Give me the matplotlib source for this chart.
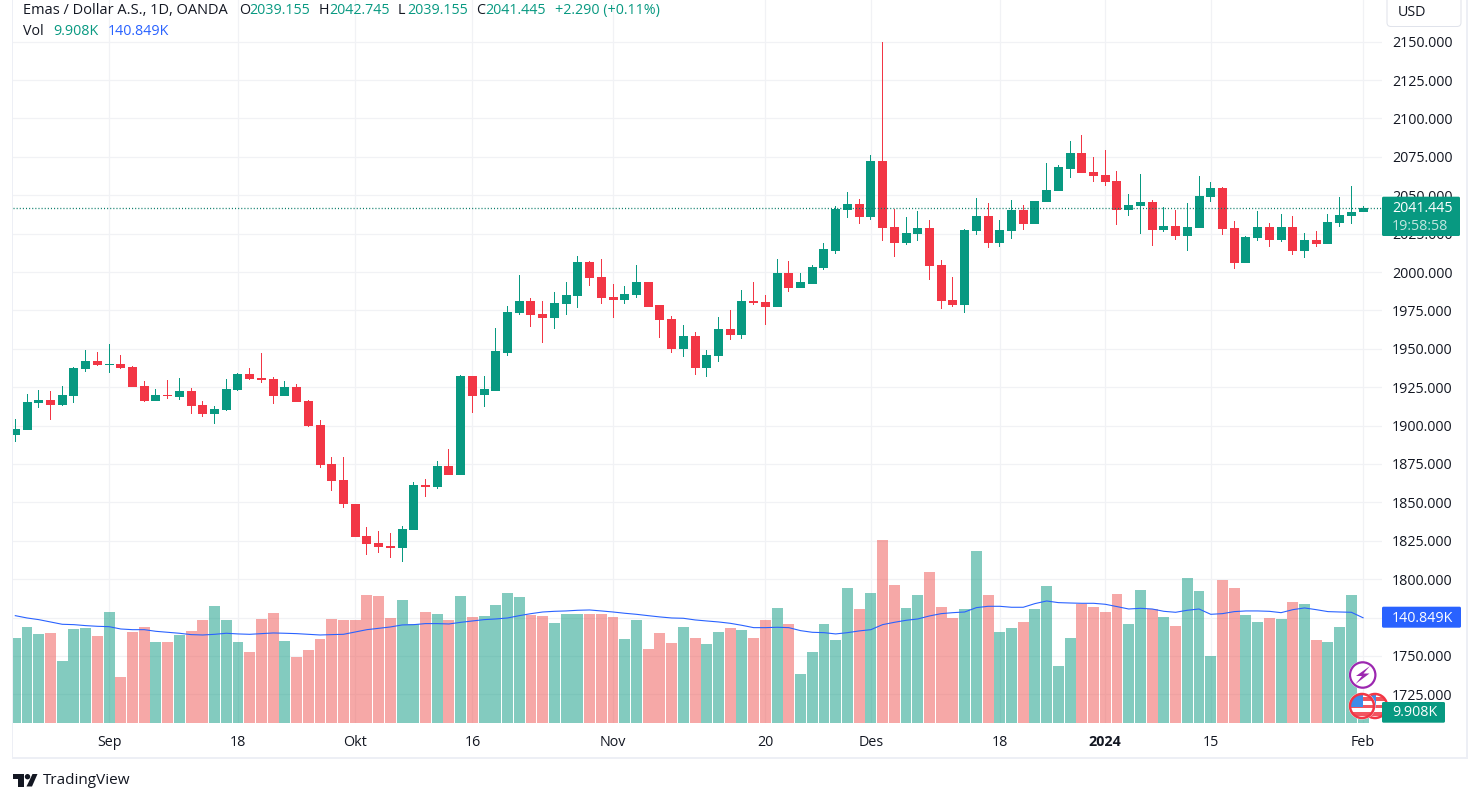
# TradingView style gold chart, daily candles with volume overlay
import matplotlib
matplotlib.use('Agg')
import matplotlib.pyplot as plt
from matplotlib.patches import Circle, Polygon, Rectangle, FancyBboxPatch

plt.rcParams['font.family'] = ['Open Sans', 'DejaVu Sans']

opens = [1894.1,1897.3,1914.8,1916.8,1913.5,1919.4,1936.9,1942.1,1939.5,1940.2,
         1938.2,1925.9,1916.1,1920.0,1918.7,1922.6,1913.5,1907.7,1910.3,1923.3,
         1933.7,1931.1,1930.4,1919.4,1925.2,1916.1,1900.5,1875.2,1864.8,1849.2,
         1827.8,1823.3,1821.3,1820.1,1831.7,1861.6,1860.3,1873.9,1868.0,1932.4,
         1919.6,1922.8,1947.4,1973.6,1981.4,1972.9,1970.3,1979.5,1984.7,2006.3,
         1996.5,1984.0,1982.1,1985.3,1993.2,1978.2,1969.7,1950.0,1958.5,1937.6,
         1945.5,1963.1,1959.2,1981.4,1980.8,1977.5,1999.1,1989.3,1992.5,2002.3,
         2013.8,2040.6,2044.5,2036.0,2072.0,2029.5,2019.0,2024.9,2028.8,2004.6,
         1981.8,1978.5,2026.9,2036.7,2019.0,2026.9,2040.6,2031.5,2045.8,2053.0,
         2067.4,2077.2,2065.4,2063.5,2059.6,2040.7,2043.3,2045.9,2027.6,2030.2,
         2023.7,2028.9,2049.1,2055.0,2028.9,2006.1,2022.4,2029.6,2021.1,2029.6,
         2013.9,2021.1,2018.5,2032.2,2036.7,2039.155]
highs = [1904.4,1920.7,1923.3,1922.6,1925.9,1938.2,1949.2,1947.9,1953.1,1946.0,
         1938.9,1929.1,1923.9,1929.8,1931.1,1924.6,1916.1,1912.9,1930.4,1934.3,
         1937.6,1947.3,1931.7,1929.1,1927.2,1916.8,1903.8,1879.8,1879.8,1849.2,
         1833.7,1831.1,1829.8,1834.9,1863.5,1865.5,1877.2,1885.0,1933.0,1932.4,
         1932.0,1963.3,1978.1,1997.8,1983.4,1981.4,1987.3,1993.8,2010.2,2006.9,
         2008.2,1992.5,1991.2,2004.3,1993.2,1978.8,1971.6,1965.7,1961.2,1949.4,
         1971.0,1975.5,1988.6,1993.8,1985.3,2008.2,2006.9,1999.1,2004.3,2018.7,
         2043.2,2052.4,2047.8,2075.9,2149.8,2041.3,2036.0,2039.9,2034.1,2007.9,
         1996.8,2028.2,2048.4,2045.2,2034.1,2047.1,2043.9,2046.5,2071.3,2069.4,
         2085.1,2089.0,2075.2,2079.2,2066.1,2051.1,2064.1,2047.2,2042.6,2040.6,
         2045.2,2062.8,2058.9,2055.6,2033.5,2023.7,2040.0,2032.2,2038.0,2036.7,
         2025.6,2026.9,2038.0,2049.1,2056.3,2042.745]
lows = [1889.5,1897.3,1911.6,1903.8,1912.9,1914.8,1935.0,1938.9,1934.3,1936.9,
        1925.2,1915.5,1916.1,1917.4,1916.8,1907.7,1905.7,1901.2,1909.6,1922.6,
        1929.8,1927.8,1914.2,1919.4,1915.5,1899.2,1872.6,1857.7,1846.6,1827.2,
        1815.5,1816.8,1813.5,1810.9,1831.7,1853.2,1859.0,1868.0,1868.0,1908.3,
        1912.4,1922.8,1945.5,1972.3,1964.4,1954.0,1963.1,1972.3,1976.8,1991.2,
        1979.5,1970.3,1979.5,1983.4,1977.5,1957.2,1947.4,1944.8,1933.1,1931.7,
        1941.6,1955.9,1956.6,1978.8,1965.7,1977.5,1987.3,1989.3,1991.9,2001.0,
        2011.8,2035.4,2031.4,2034.1,2020.3,2009.9,2017.7,2020.3,1994.8,1975.9,
        1977.2,1973.3,2024.3,2015.7,2016.4,2021.6,2027.5,2031.5,2045.8,2053.0,
        2061.5,2064.8,2058.9,2056.3,2030.8,2036.7,2025.0,2017.2,2026.3,2021.1,
        2013.9,2028.9,2045.9,2024.3,2002.2,2006.1,2020.4,2016.5,2019.8,2011.3,
        2009.3,2016.5,2018.5,2029.6,2031.5,2039.155]
closes = [1897.9,1915.5,1916.8,1913.5,1920.0,1937.6,1942.1,1939.5,1940.2,1937.6,
          1925.2,1916.1,1920.0,1919.4,1922.6,1912.9,1907.7,1910.9,1923.9,1933.7,
          1930.4,1929.8,1919.4,1925.2,1915.5,1899.9,1874.6,1864.2,1848.6,1827.2,
          1822.6,1820.7,1820.1,1832.4,1861.6,1860.3,1873.9,1868.0,1932.4,1919.4,
          1923.5,1948.3,1974.2,1981.4,1972.3,1970.3,1980.1,1985.3,2006.3,1995.8,
          1983.4,1982.1,1986.0,1993.2,1977.5,1969.0,1950.0,1958.5,1937.6,1946.1,
          1963.1,1959.2,1981.4,1980.1,1977.5,1999.1,1989.3,1993.2,2003.0,2014.8,
          2041.3,2044.5,2036.0,2072.0,2028.8,2019.0,2025.6,2028.8,2004.0,1981.1,
          1978.5,2027.5,2036.7,2019.0,2027.5,2040.6,2031.5,2046.5,2053.7,2068.1,
          2077.2,2064.8,2062.8,2058.9,2040.6,2043.9,2045.9,2027.6,2030.2,2023.7,
          2029.6,2049.8,2055.0,2028.3,2006.1,2023.0,2029.6,2021.1,2029.6,2013.9,
          2021.1,2018.5,2032.8,2037.4,2039.3,2041.445]

# volume and its moving average, in thousands
volume = [113.5,128.2,118.8,120.2,82.8,125.5,126.8,116.1,148.2,61.4,
          121.5,128.2,108.1,108.1,117.5,122.8,137.5,156.2,137.5,108.1,
          94.8,138.8,146.9,109.5,88.1,97.5,112.1,138.8,137.5,137.5,
          170.9,169.5,140.2,164.2,132.2,148.2,145.5,137.5,169.5,141.5,
          142.8,157.5,173.6,168.2,144.2,142.8,133.5,145.5,145.5,145.5,
          145.5,141.5,112.1,137.5,98.8,120.2,106.8,128.2,113.5,105.5,
          121.5,126.8,124.2,113.5,137.5,153.5,132.2,65.4,94.8,132.2,
          110.8,180.2,152.2,173.6,244.3,184.2,153.5,170.9,201.6,154.9,
          140.2,152.2,229.6,170.9,121.5,126.8,134.8,152.2,182.9,76.1,
          113.5,158.9,154.9,148.2,172.2,132.2,177.6,152.2,141.5,129.5,
          193.6,176.2,89.4,190.9,180.2,144.2,134.8,140.2,138.8,161.5,
          158.9,110.8,108.1,128.2,170.9,9.908]
volume_ma = [143.7,140.6,138.4,135.3,132.2,131.7,130.4,129.5,129.0,125.9,
             125.0,125.0,122.8,121.5,120.2,118.4,117.9,118.8,120.2,119.3,
             118.8,119.7,120.6,120.2,119.7,118.8,117.9,118.4,118.8,121.9,
             125.0,126.8,128.6,131.3,131.7,133.1,133.1,132.6,134.8,136.6,
             138.4,139.3,140.6,143.7,146.4,148.6,149.5,150.0,150.9,151.3,
             150.0,148.6,146.9,145.5,143.7,142.0,140.6,140.2,138.0,136.6,
             135.3,133.5,130.8,127.7,127.7,128.2,127.7,123.7,121.5,121.0,
             119.3,121.0,123.3,125.0,131.7,134.8,137.5,139.3,143.3,146.4,
             147.7,148.6,154.4,156.2,156.2,154.9,154.9,159.8,163.3,161.1,
             160.6,160.2,160.2,158.9,155.8,152.6,153.5,152.6,149.5,148.2,
             150.9,152.6,145.5,146.4,149.1,150.0,150.0,149.5,147.7,151.7,
             154.0,151.7,149.1,148.6,148.2,140.849]

date_ticks = [8, 19, 29, 39, 51, 64, 73, 84, 93, 102, 115]
date_labels = ['Sep', '18', 'Okt', '16', 'Nov', '20', 'Des', '18', '2024', '15', 'Feb']
price_ticks = [1725 + 25 * k for k in range(18)]
last_price = closes[-1]

GREEN = '#089981'
RED = '#F23645'
VOL_RED = '#EF5350'
BLUE = '#2962FF'
TEXT = '#131722'
GRID = '#F1F2F5'
FRAME = '#EDEFF5'

W, H = 1480, 792
PX = 0.72  # one pixel in points at dpi 100

# pixel geometry of the pane
left, right, bottom = 13.0, 1381.7, 723.3
bar_x0, bar_dx = 15.3, 11.72
y2150, px_per_unit = 41.7, 1.5355
px_per_k = 1 / 1.335

fig = plt.figure(figsize=(W / 100, H / 100), dpi=100, facecolor='white')
ax = fig.add_axes([left / W, 1 - bottom / H, (right - left) / W, bottom / H])
ax.set_xlim((left - bar_x0) / bar_dx, (right - bar_x0) / bar_dx)
ax.set_ylim(2150 - (bottom - y2150) / px_per_unit, 2150 + y2150 / px_per_unit)
for s in ax.spines.values():
    s.set_visible(False)

idx = list(range(len(closes)))
colors = [GREEN if c >= o else RED for o, c in zip(opens, closes)]
vol_colors = [GREEN if c >= o else VOL_RED for o, c in zip(opens, closes)]

# wicks as one pixel wide bars so they stay crisp
ax.bar(idx, [h - l for h, l in zip(highs, lows)], bottom=lows,
       width=1 / bar_dx, color=colors, linewidth=0, zorder=3)
ax.bar(idx, [abs(c - o) for o, c in zip(opens, closes)],
       bottom=[min(o, c) for o, c in zip(opens, closes)],
       width=0.77, color=colors, linewidth=0, zorder=4)
ax.axhline(last_price, color='#067A67', lw=PX * 1.3, linestyle=(0, (0.8, 1.6)), zorder=5)

ax.set_axisbelow(True)
ax.grid(True, color=GRID, lw=PX * 1.2)
ax.set_xticks(date_ticks)
ax.set_xticklabels(date_labels)
ax.set_yticks(price_ticks)
ax.set_yticklabels(['%.3f' % p for p in price_ticks])
ax.tick_params(axis='both', length=0, labelsize=10.3, labelcolor=TEXT)
ax.tick_params(axis='x', pad=8.5)
ax.get_xticklabels()[8].set_fontweight('bold')

# volume pane shares the x axis
vol = ax.twinx()
vol.set_ylim(0, bottom / px_per_k)
vol.bar(idx, volume, width=0.93, color=vol_colors, alpha=0.5, linewidth=0, zorder=2)
vol.plot(idx, volume_ma, color=BLUE, lw=PX * 1.1, zorder=3)
vol.yaxis.set_visible(False)
for s in vol.spines.values():
    s.set_visible(False)

# twinx puts the price labels back on the left
ax.yaxis.tick_right()
ax.tick_params(axis='y', length=0, pad=7.3, labelsize=10.3, labelcolor=TEXT)

# overlay in pixel coordinates for the legend, price tags and icons
ov = fig.add_axes([0, 0, 1, 1], zorder=10)
ov.set_xlim(0, W)
ov.set_ylim(H, 0)
ov.axis('off')
ov.patch.set_visible(False)

ov.add_patch(Rectangle((11.5, 0), 1.8, 758.5, fc=FRAME, lw=0))
ov.add_patch(Rectangle((11.5, 756.7), 1456.5, 1.8, fc=FRAME, lw=0))
ov.add_patch(Rectangle((1466.2, 0), 1.8, 758.5, fc=FRAME, lw=0))


def tag(x0, x1, y0, y1, color):
    ov.add_patch(FancyBboxPatch((x0, y0), x1 - x0, y1 - y0, boxstyle='round,pad=0,rounding_size=1.5',
                                fc=color, ec='none', zorder=5))


tag(1382, 1460, 196.7, 236, GREEN)
ov.text(1392, 208, '2041.445', color='white', fontsize=10.3, va='center', zorder=6)
ov.text(1392, 226.5, '19:58:58', color='white', alpha=0.75, fontsize=10.3, va='center', zorder=6)
tag(1382, 1461, 606.7, 627.7, BLUE)
ov.text(1392, 618, '140.849K', color='white', fontsize=10.3, va='center', zorder=6)
tag(1382, 1445, 702, 722.7, GREEN)
ov.text(1392, 713, '9.908K', color='white', fontsize=10.3, va='center', zorder=6)

# currency button
ov.add_patch(FancyBboxPatch((1387, -10), 74, 36.5, boxstyle='round,pad=0,rounding_size=4',
                            fc='white', ec='#E0E3EB', lw=PX, zorder=5))
ov.text(1398, 12, 'USD', color=TEXT, fontsize=10.3, va='center', zorder=6)

# legend
legend_row = [(23, 'Emas / Dollar A.S., 1D, OANDA', TEXT, 10.5), (239, 'O', TEXT, 10.3), (249, '2039.155', GREEN, 10.3),
              (319, 'H', TEXT, 10.3), (329, '2042.745', GREEN, 10.3), (398, 'L', TEXT, 10.3), (407, '2039.155', GREEN, 10.3),
              (476, 'C', TEXT, 10.3), (485, '2041.445', GREEN, 10.3), (555, '+2.290 (+0.11%)', GREEN, 10.3)]
for x, s, c, fs in legend_row:
    ov.text(x, 10.5, s, color=c, fontsize=fs, va='center')
ov.text(23, 31.5, 'Vol', color=TEXT, fontsize=10.3, va='center')
ov.text(53, 31.5, '9.908K', color=GREEN, fontsize=10.3, va='center')
ov.text(108, 31.5, '140.849K', color=BLUE, fontsize=10.3, va='center')


def flag(cx, cy, r, z):
    ov.add_patch(Circle((cx, cy), r + 1.5, fc='white', ec='none', zorder=z))
    clip = Circle((cx, cy), r, fc='white', ec='none', zorder=z)
    ov.add_patch(clip)
    for k in range(3):
        s = Rectangle((cx - r, cy - r + 3 + k * 7.5), 2 * r, 3.5, fc='#F2545F', lw=0, zorder=z)
        ov.add_patch(s)
        s.set_clip_path(clip)
    c = Rectangle((cx - r, cy - r), r + 1, r + 1, fc='#3F8CE8', lw=0, zorder=z)
    ov.add_patch(c)
    c.set_clip_path(clip)
    ov.add_patch(Circle((cx, cy), r, fc='none', ec=RED, lw=1.8, zorder=z))


flag(1375, 706, 12, 2)
flag(1362, 706, 12, 3)

# earnings style lightning marker
ov.add_patch(Circle((1362.7, 675), 14, fc='white', ec='none', zorder=2))
ov.add_patch(Circle((1362.7, 675), 12.7, fc='white', ec='#9C27B0', lw=1.6, zorder=2))
ov.add_patch(Polygon([(1370, 666), (1356, 676), (1362, 676), (1355.5, 684), (1369.5, 673.5), (1363.5, 673.5)],
                     fc='#9C27B0', lw=0, zorder=3))

# TradingView logo
ov.add_patch(Polygon([(13, 774), (24, 774), (24, 786.5), (18, 786.5), (18, 779), (13, 779)], fc=TEXT, lw=0))
ov.add_patch(Circle((27.5, 776.7), 2.7, fc=TEXT, lw=0))
ov.add_patch(Polygon([(32.5, 774), (37.5, 774), (32, 786.5), (26.5, 786.5)], fc=TEXT, lw=0))
ov.text(43, 781, 'TradingView', color=TEXT, fontsize=11, va='center')

fig.savefig('out.png', dpi=100)
